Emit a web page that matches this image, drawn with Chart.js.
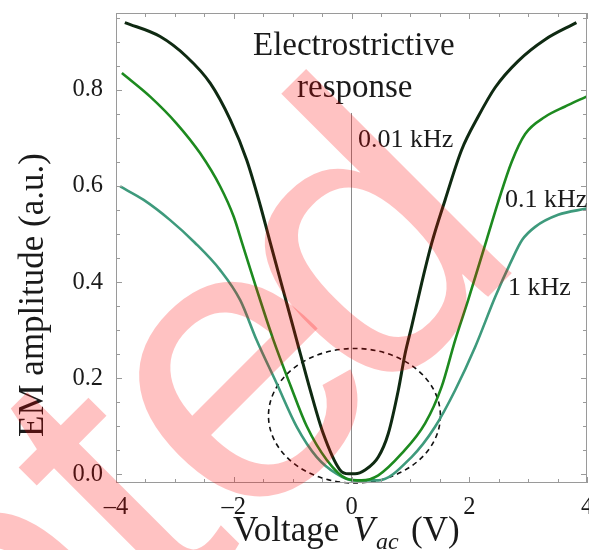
<!DOCTYPE html>
<html>
<head>
<meta charset="utf-8">
<script src="https://cdn.jsdelivr.net/npm/chart.js@4.4.1/dist/chart.umd.min.js"></script>
<style>
  html, body { margin: 0; padding: 0; background: #fff; }
  canvas { display: block; }
</style>
</head>
<body>
<canvas id="emChart" width="589" height="550"></canvas>
<script>
"use strict";

// Values: voltage (V) and EM amplitude (a.u.)
const xSlow = [-3.85, -3.25, -2.8, -2.4, -2.06, -1.78, -1.55, -1.38, -1.16, -0.93, -0.70, -0.48, -0.2, -0.05, 0.06, 0.23, 0.455, 0.625, 0.795, 0.91, 1.02, 1.19, 1.36, 1.59, 1.87, 2.15, 2.44, 2.83, 3.29, 3.82];
const ySlow = [0.940, 0.911, 0.869, 0.814, 0.738, 0.654, 0.560, 0.482, 0.383, 0.279, 0.175, 0.085, 0.010, 0.001, 0.001, 0.009, 0.036, 0.085, 0.175, 0.251, 0.307, 0.397, 0.480, 0.571, 0.675, 0.744, 0.805, 0.860, 0.905, 0.940];

const xMid = [-3.9, -3.42, -2.97, -2.57, -2.23, -2.0, -1.85, -1.61, -1.33, -1.04, -0.76, -0.42, -0.08, 0.17, 0.455, 0.85, 1.25, 1.53, 1.76, 1.98, 2.3, 2.5, 2.72, 2.95, 3.29, 3.62, 3.99];
const yMid = [0.835, 0.786, 0.730, 0.668, 0.599, 0.536, 0.478, 0.385, 0.281, 0.186, 0.100, 0.030, -0.009, -0.0125, -0.002, 0.043, 0.106, 0.182, 0.279, 0.362, 0.490, 0.570, 0.650, 0.708, 0.744, 0.765, 0.786];

const xFast = [-3.93, -3.53, -3.08, -2.66, -2.23, -1.89, -1.61, -1.27, -0.93, -0.59, -0.25, 0.03, 0.455, 1.02, 1.42, 1.76, 2.10, 2.44, 2.7, 2.9, 3.12, 3.51, 3.99];
const yFast = [0.599, 0.571, 0.529, 0.482, 0.425, 0.3625, 0.279, 0.189, 0.099, 0.036, 0.001, -0.0125, -0.0125, 0.036, 0.099, 0.175, 0.265, 0.369, 0.44, 0.488, 0.515, 0.540, 0.553];

const seriesLabels = ["0.01 kHz", "0.1 kHz", "1 kHz"];

// vertical guide at V = 0
const xZero = [0, 0];
const yZero = [-0.018, 0.752];

// dashed ellipse: centre and half-widths in data units
const ellipseCenter = [0.05, 0.122];
const ellipseRadius = [1.46, 0.14];

const xTicks = [-4, -2, 0, 2, 4];
const yTicks = [0, 0.2, 0.4, 0.6, 0.8];
const xMinorTicks = [-3.5, -3, -2.5, -1.5, -1, -0.5, 0.5, 1, 1.5, 2.5, 3, 3.5];
const yMinorTicks = [0.05, 0.1, 0.15, 0.25, 0.3, 0.35, 0.45, 0.5, 0.55, 0.65, 0.7, 0.75, 0.85, 0.9, 0.95];

const SERIF = '"Liberation Serif", "Times New Roman", serif';
const TEXT = "#1a1a1a";

function points(xs, ys) {
  return xs.map((x, i) => ({ x: x, y: ys[i] }));
}

// frame, inward ticks, ellipse, annotations, titles, watermark
const decorPlugin = {
  id: "decor",
  beforeDatasetsDraw(chart) {
    const ctx = chart.ctx;
    const xs = chart.scales.x, ys = chart.scales.y;
    const cx = xs.getPixelForValue(ellipseCenter[0]);
    const cy = ys.getPixelForValue(ellipseCenter[1]);
    const rx = Math.abs(xs.getPixelForValue(ellipseCenter[0] + ellipseRadius[0]) - cx);
    const ry = Math.abs(ys.getPixelForValue(ellipseCenter[1] + ellipseRadius[1]) - cy);
    ctx.save();
    ctx.strokeStyle = "#111";
    ctx.lineWidth = 1.6;
    ctx.setLineDash([5, 4]);
    ctx.beginPath();
    ctx.ellipse(cx, cy, rx, ry, 0, 0, Math.PI * 2);
    ctx.stroke();
    ctx.restore();
  },
  afterDatasetsDraw(chart) {
    const ctx = chart.ctx;
    const a = chart.chartArea;
    const xs = chart.scales.x, ys = chart.scales.y;
    ctx.save();
    ctx.strokeStyle = "#9a9a9a";
    ctx.lineWidth = 1;
    ctx.strokeRect(a.left + 0.5, a.top + 0.5, a.right - a.left - 1, a.bottom - a.top - 1);

    function xTick(v, len) {
      const p = Math.round(xs.getPixelForValue(v)) + 0.5;
      ctx.beginPath();
      ctx.moveTo(p, a.bottom); ctx.lineTo(p, a.bottom - len);
      ctx.moveTo(p, a.top); ctx.lineTo(p, a.top + len);
      ctx.stroke();
    }
    function yTick(v, len) {
      const p = Math.round(ys.getPixelForValue(v)) + 0.5;
      ctx.beginPath();
      ctx.moveTo(a.left, p); ctx.lineTo(a.left + len, p);
      ctx.moveTo(a.right, p); ctx.lineTo(a.right - len, p);
      ctx.stroke();
    }
    xTicks.forEach(v => xTick(v, 6));
    xMinorTicks.forEach(v => xTick(v, 4));
    yTicks.forEach(v => yTick(v, 6));
    yMinorTicks.forEach(v => yTick(v, 4));

    ctx.fillStyle = TEXT;
    ctx.textAlign = "left";
    ctx.textBaseline = "alphabetic";
    ctx.font = "33px " + SERIF;
    ctx.fillText("Electrostrictive", 253, 55);
    ctx.fillText("response", 297, 97);

    ctx.font = "26px " + SERIF;
    ctx.fillText(seriesLabels[0], 358, 147);
    ctx.fillText(seriesLabels[1], 505, 207);
    ctx.fillText(seriesLabels[2], 508, 295);

    // x axis title with italic subscript
    ctx.font = "35px " + SERIF;
    ctx.fillText("Voltage", 233, 541);
    ctx.font = "italic 35px " + SERIF;
    ctx.fillText("V", 353, 541);
    ctx.font = "italic 24px " + SERIF;
    ctx.fillText("ac", 376, 549);
    ctx.font = "35px " + SERIF;
    ctx.fillText("(V)", 411, 541);

    // y axis title
    ctx.translate(43, 295);
    ctx.rotate(-Math.PI / 2);
    ctx.textAlign = "center";
    ctx.fillText("EM amplitude (a.u.)", 0, 0);
    ctx.restore();
  },
  afterDraw(chart) {
    // manuscript watermark laid over the figure
    const ctx = chart.ctx;
    ctx.save();
    ctx.translate(557, 228);
    ctx.rotate(-Math.PI / 4);
    ctx.font = '400px "Liberation Sans", Arial, sans-serif';
    ctx.fillStyle = "rgba(255, 0, 0, 0.24)";
    ctx.textBaseline = "alphabetic";
    const dW = ctx.measureText("d").width;
    ctx.textAlign = "right";
    ctx.fillText("Accepte", -dW, 0);
    ctx.textAlign = "left";
    ctx.fillText("d", -dW - 38, 0);
    ctx.restore();
  }
};

const ctx = document.getElementById("emChart").getContext("2d");
new Chart(ctx, {
  type: "line",
  data: {
    datasets: [
      {
        label: seriesLabels[0],
        data: points(xSlow, ySlow),
        borderColor: "#0f2a12",
        borderWidth: 3,
        pointRadius: 0,
        cubicInterpolationMode: "monotone",
        fill: false
      },
      {
        label: seriesLabels[1],
        data: points(xMid, yMid),
        borderColor: "#1d8a1f",
        borderWidth: 2.6,
        pointRadius: 0,
        cubicInterpolationMode: "monotone",
        fill: false
      },
      {
        label: seriesLabels[2],
        data: points(xFast, yFast),
        borderColor: "#3e9a7c",
        borderWidth: 2.6,
        pointRadius: 0,
        cubicInterpolationMode: "monotone",
        fill: false
      },
      {
        label: "zero",
        data: points(xZero, yZero),
        borderColor: "#8a8a8a",
        borderWidth: 1,
        pointRadius: 0,
        tension: 0,
        fill: false
      }
    ]
  },
  options: {
    responsive: false,
    animation: false,
    devicePixelRatio: 1,
    layout: { padding: { top: 13, right: 2, left: 0, bottom: 0 } },
    plugins: {
      legend: { display: false },
      tooltip: { enabled: false }
    },
    scales: {
      x: {
        type: "linear",
        min: -4,
        max: 4,
        grid: { display: false, drawTicks: false },
        border: { display: false },
        afterBuildTicks: s => { s.ticks = xTicks.map(v => ({ value: v })); },
        afterFit: s => { s.height = 67; s.paddingLeft = 0; s.paddingRight = 0; },
        ticks: {
          color: TEXT,
          padding: 10,
          maxRotation: 0,
          font: { family: SERIF, size: 24.5 },
          callback: v => (v < 0 ? "\u2013" + Math.abs(v) : String(v))
        }
      },
      y: {
        type: "linear",
        min: -0.018,
        max: 0.96,
        grid: { display: false, drawTicks: false },
        border: { display: false },
        afterBuildTicks: s => { s.ticks = yTicks.map(v => ({ value: v })); },
        afterFit: s => { s.width = 116; s.paddingTop = 0; s.paddingBottom = 0; },
        ticks: {
          color: TEXT,
          padding: 13,
          font: { family: SERIF, size: 24.5 },
          callback: v => Number(v).toFixed(1)
        }
      }
    }
  },
  plugins: [decorPlugin]
});
</script>
</body>
</html>
